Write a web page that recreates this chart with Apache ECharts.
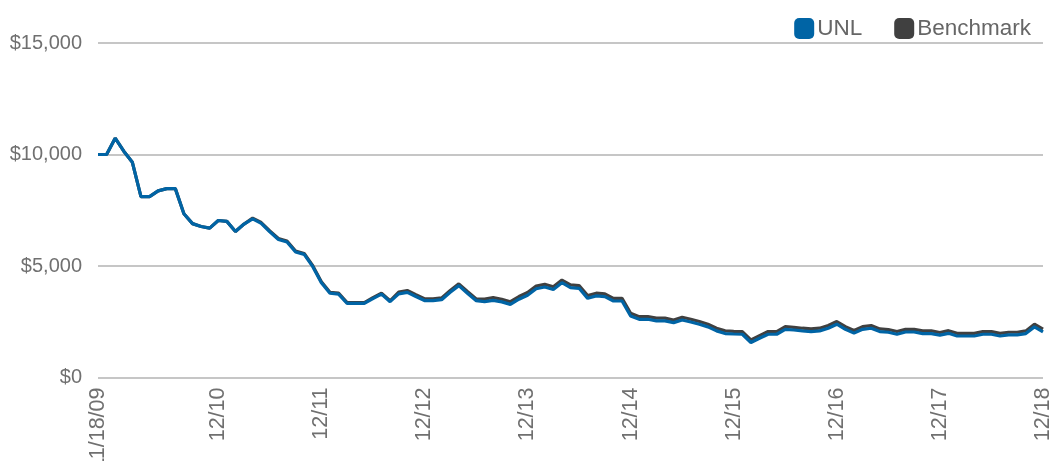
<!DOCTYPE html>
<html>
<head>
<meta charset="utf-8">
<script src="https://cdn.jsdelivr.net/npm/echarts@6/dist/echarts.min.js"></script>
<style>
html,body{margin:0;padding:0;background:#fff;}
#chart{width:1049px;height:461px;}
</style>
</head>
<body>
<div id="chart"></div>
<script>
var categories = [
  '11/18/09','11/09','12/09',
  '01/10','02/10','03/10','04/10','05/10','06/10','07/10','08/10','09/10','10/10','11/10','12/10',
  '01/11','02/11','03/11','04/11','05/11','06/11','07/11','08/11','09/11','10/11','11/11','12/11',
  '01/12','02/12','03/12','04/12','05/12','06/12','07/12','08/12','09/12','10/12','11/12','12/12',
  '01/13','02/13','03/13','04/13','05/13','06/13','07/13','08/13','09/13','10/13','11/13','12/13',
  '01/14','02/14','03/14','04/14','05/14','06/14','07/14','08/14','09/14','10/14','11/14','12/14',
  '01/15','02/15','03/15','04/15','05/15','06/15','07/15','08/15','09/15','10/15','11/15','12/15',
  '01/16','02/16','03/16','04/16','05/16','06/16','07/16','08/16','09/16','10/16','11/16','12/16',
  '01/17','02/17','03/17','04/17','05/17','06/17','07/17','08/17','09/17','10/17','11/17','12/17',
  '01/18','02/18','03/18','04/18','05/18','06/18','07/18','08/18','09/18','10/18','11/18','12/18'
];
var tickLabels = ['11/18/09','12/10','12/11','12/12','12/13','12/14','12/15','12/16','12/17','12/18'];

var unl = [
  10000,10000,10730,10150,9650,8110,8110,8370,8470,8470,7340,6900,6770,6700,7040,7000,6550,6880,
  7110,6910,6530,6190,6080,5630,5520,4970,4250,3780,3740,3320,3320,3320,3540,3740,3400,
  3750,3820,3630,3450,3450,3490,3820,4120,3780,3450,
  3400,3460,3390,3280,3510,3690,3980,4060,3950,4250,4030,4000,3550,3660,3630,3430,3430,
  2760,2610,2610,2540,2540,2460,2580,2490,2390,2270,2090,1970,1950,1940,1570,1760,1940,1940,
  2160,2130,2090,2060,2090,2210,2390,2160,1990,2160,2210,2060,2030,1940,2040,2040,1970,1970,
  1900,1980,1860,1860,1860,1940,1940,1860,1910,1910,1970,2270,2050
];
var benchmark = [
  10000,10000,10730,10150,9650,8110,8110,8370,8470,8470,7340,6900,6770,6700,7040,7000,6550,6880,
  7150,6950,6570,6230,6120,5670,5560,5010,4290,3820,3780,3360,3360,3360,3580,3780,3440,
  3830,3900,3710,3530,3530,3570,3900,4200,3860,3530,
  3520,3580,3510,3400,3630,3810,4100,4180,4070,4370,4150,4120,3670,3780,3750,3550,3550,
  2880,2730,2730,2660,2660,2580,2700,2610,2510,2390,2210,2090,2070,2060,1690,1880,2060,2060,
  2280,2250,2210,2180,2210,2330,2510,2280,2110,2280,2330,2180,2150,2060,2160,2160,2090,2090,
  2020,2100,1980,1980,1980,2060,2060,1980,2030,2030,2090,2390,2170
];

var chart = echarts.init(document.getElementById('chart'), null, {renderer: 'canvas'});
var fontFam = '"Liberation Sans", Arial, Helvetica, sans-serif';
chart.setOption({
  animation: false,
  backgroundColor: '#ffffff',
  legend: {
    data: ['UNL', 'Benchmark'],
    right: 13,
    top: 12,
    icon: 'roundRect',
    itemWidth: 20,
    itemHeight: 21,
    itemGap: 32,
    textStyle: {color: '#666666', fontSize: 22.5, fontFamily: fontFam, padding: [0, 0, 0, -2]}
  },
  grid: {left: 98, right: 6, top: 43, bottom: 83.5, containLabel: false, outerBoundsMode: 'none'},
  xAxis: {
    type: 'category',
    data: categories,
    boundaryGap: false,
    axisLine: {show: false},
    axisTick: {show: false},
    splitLine: {show: false},
    axisLabel: {
      rotate: 90,
      margin: 10,
      color: '#707070',
      fontSize: 21.5,
      fontFamily: fontFam,
      interval: function (idx, val) { return tickLabels.indexOf(val) >= 0; }
    }
  },
  yAxis: {
    type: 'value',
    min: 0,
    max: 15000,
    interval: 5000,
    axisLine: {show: false},
    axisTick: {show: false},
    splitLine: {lineStyle: {color: '#b3b3b3', width: 1.5}},
    axisLabel: {
      margin: 16,
      color: '#707070',
      fontSize: 20,
      fontFamily: fontFam,
      formatter: function (v) { return '$' + v.toLocaleString('en-US'); }
    }
  },
  series: [
    {
      name: 'UNL', type: 'line', data: unl, showSymbol: false, z: 3,
      itemStyle: {color: '#0064a5'},
      lineStyle: {color: '#0064a5', width: 3.2}
    },
    {
      name: 'Benchmark', type: 'line', data: benchmark, showSymbol: false, z: 2,
      itemStyle: {color: '#404040'},
      lineStyle: {color: '#404040', width: 3.2}
    }
  ]
});
</script>
</body>
</html>
